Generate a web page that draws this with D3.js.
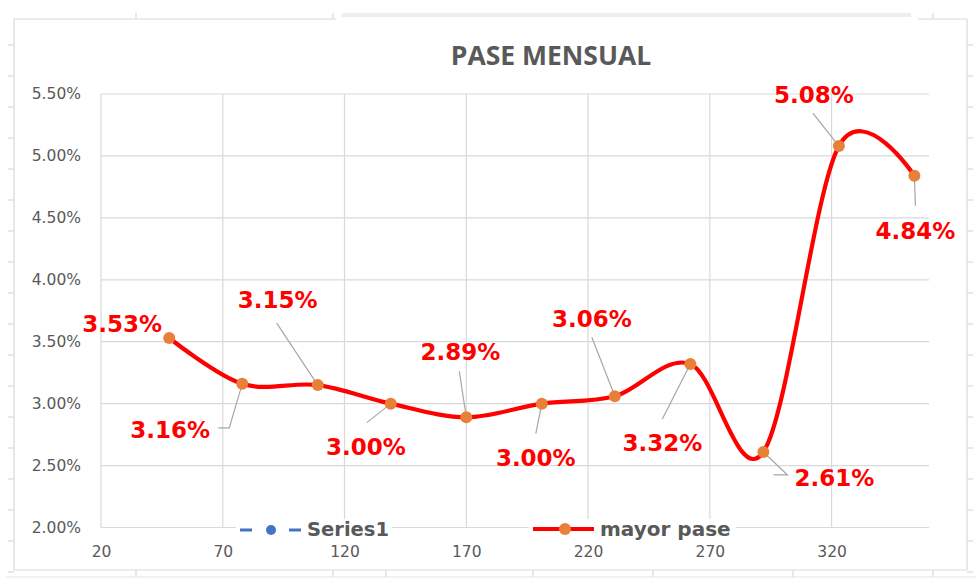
<!DOCTYPE html>
<html><head><meta charset="utf-8">
<script src="https://cdn.jsdelivr.net/npm/d3@7"></script>
<style>html,body{margin:0;padding:0;background:#fff;}svg{display:block;}</style>
</head><body>
<svg id="chart" width="980" height="580"></svg>
<script>
// ---- data ----
const chartTitle = "PASE MENSUAL";
const seriesNames = ["Series1", "mayor pase"];
const xValues = [48, 78, 109, 139, 170, 201, 231, 262, 292, 323, 354];
const mayorPase = [3.53, 3.16, 3.15, 3.00, 2.89, 3.00, 3.06, 3.32, 2.61, 5.08, 4.84];
const series1 = [];
const xTicks = [20, 70, 120, 170, 220, 270, 320];
const yTicks = [2.0, 2.5, 3.0, 3.5, 4.0, 4.5, 5.0, 5.5];

// ---- label layout (pixel offsets from each point) ----
const labelOffsets = [[-47,-6],[-72,54],[-40,-77],[-25,51],[-6,-57],[-6,62],[-23,-69],[-28,87],[71,34],[-25,-43],[1,63]];
const leaderPaths = [null, [[-24,44],[-13,44]], [[-41,-62]], [[-24,19]], [[-7,-46]], [[-6,30]], [[-23,-59]], [[-28,55]], [[10,23],[24,23]], [[-26,-33]], [[1,30]]];

const svg = d3.select("#chart");
const x = d3.scaleLinear().domain([20, 360]).range([101, 929]);
const y = d3.scaleLinear().domain([2.0, 5.5]).range([527.5, 94]);

// ---- outer frame (screenshot border) ----
const frame = svg.append("g").attr("stroke", "#d9d9d9").attr("fill", "none").attr("stroke-width", 1.2);
frame.append("line").attr("x1", 14).attr("x2", 14).attr("y1", 19).attr("y2", 570);
frame.append("line").attr("x1", 967).attr("x2", 967).attr("y1", 19).attr("y2", 570);
frame.append("line").attr("x1", 14).attr("x2", 336).attr("y1", 19).attr("y2", 19);
frame.append("line").attr("x1", 918).attr("x2", 967).attr("y1", 19).attr("y2", 19);
frame.append("line").attr("x1", 14).attr("x2", 967).attr("y1", 570).attr("y2", 570);
frame.append("line").attr("x1", 6).attr("x2", 976).attr("y1", 577).attr("y2", 577).attr("stroke", "#e6e6e6");
svg.append("rect").attr("x", 342).attr("y", 13).attr("width", 569).attr("height", 4).attr("fill", "#eeeeee");
[136, 333, 933].forEach(v => frame.append("line").attr("x1", v).attr("x2", v).attr("y1", 13).attr("y2", 19));
[136, 333, 386, 533, 653, 793, 933].forEach(v => frame.append("line").attr("x1", v).attr("x2", v).attr("y1", 570).attr("y2", 577));
d3.range(45, 575, 31).forEach(v => {
  frame.append("line").attr("x1", 8).attr("x2", 14).attr("y1", v).attr("y2", v);
  frame.append("line").attr("x1", 967).attr("x2", 973).attr("y1", v).attr("y2", v);
});

// ---- title ----
svg.append("text").attr("x", 551).attr("y", 65).attr("text-anchor", "middle")
  .attr("font-family", "'Open Sans', sans-serif").attr("font-weight", "bold").attr("font-size", 26.5)
  .attr("fill", "#595959").text(chartTitle);

// ---- gridlines ----
const grid = svg.append("g");
grid.selectAll(".hg").data(yTicks).join("line")
  .attr("x1", x(20)).attr("x2", x(360)).attr("y1", d => y(d)).attr("y2", d => y(d))
  .attr("stroke", "#d9d9d9").attr("stroke-width", 1.2);
grid.selectAll(".vg").data(xTicks).join("line")
  .attr("x1", d => x(d)).attr("x2", d => x(d)).attr("y1", y(5.5)).attr("y2", y(2.0))
  .attr("stroke", "#d9d9d9").attr("stroke-width", 1.2);

// ---- axes ----
const yAxis = d3.axisLeft(y).tickValues(yTicks).tickSize(0).tickPadding(0).tickFormat(d => d.toFixed(2) + "%");
const gy = svg.append("g").attr("transform", "translate(81,0)").call(yAxis);
gy.select(".domain").remove();
gy.selectAll("text").attr("font-family", "'DejaVu Sans', sans-serif").attr("font-size", 15.5).attr("fill", "#595959");

const xAxis = d3.axisBottom(x).tickValues(xTicks).tickSize(0).tickPadding(0).tickFormat(d3.format("d"));
const gx = svg.append("g").attr("transform", "translate(0,545)").call(xAxis);
gx.select(".domain").remove();
gx.selectAll("text").attr("font-family", "'DejaVu Sans', sans-serif").attr("font-size", 15.5).attr("fill", "#595959").attr("dy", "0.8em");

// ---- line ----
const pts = xValues.map((v, i) => ({x: v, y: mayorPase[i], i}));
const line = d3.line().x(d => x(d.x)).y(d => y(d.y)).curve(d3.curveCardinal.tension(0));

// leader lines
svg.append("g").selectAll("path").data(pts.filter(d => leaderPaths[d.i])).join("path")
  .attr("d", d => {
    const px = x(d.x), py = y(d.y);
    const p = leaderPaths[d.i].map(o => [px + o[0], py + o[1]]);
    return d3.line()([...p, [px, py]]);
  })
  .attr("fill", "none").attr("stroke", "#a6a6a6").attr("stroke-width", 1.2);

svg.append("path").datum(pts).attr("d", line)
  .attr("fill", "none").attr("stroke", "#ff0000").attr("stroke-width", 4.2).attr("stroke-linejoin", "round").attr("stroke-linecap", "round");

svg.append("g").selectAll("circle").data(pts).join("circle")
  .attr("cx", d => x(d.x)).attr("cy", d => y(d.y)).attr("r", 6)
  .attr("fill", "#e8803a");

// data labels
svg.append("g").selectAll("text").data(pts).join("text")
  .attr("x", d => x(d.x) + labelOffsets[d.i][0])
  .attr("y", d => y(d.y) + labelOffsets[d.i][1])
  .attr("text-anchor", "middle")
  .attr("font-family", "'DejaVu Sans', sans-serif").attr("font-weight", "bold").attr("font-size", 23)
  .attr("fill", "#ff0000")
  .text(d => d.y.toFixed(2) + "%");

// ---- legend ----
const leg = svg.append("g");
const l1 = leg.append("g");
l1.append("rect").attr("x", 236).attr("y", 519).attr("width", 156).attr("height", 21).attr("fill", "#fff");
l1.append("line").attr("x1", 240).attr("x2", 302).attr("y1", 530).attr("y2", 530)
  .attr("stroke", "#4472c4").attr("stroke-width", 3).attr("stroke-dasharray", "12,37");
l1.append("circle").attr("cx", 271).attr("cy", 530).attr("r", 5).attr("fill", "#4472c4");
l1.append("text").attr("x", 307).attr("y", 536).attr("font-family", "'DejaVu Sans', sans-serif")
  .attr("font-weight", "bold").attr("font-size", 19.5).attr("fill", "#595959").text(seriesNames[0]);
const l2 = leg.append("g");
l2.append("rect").attr("x", 529).attr("y", 519).attr("width", 207).attr("height", 21).attr("fill", "#fff");
l2.append("line").attr("x1", 533).attr("x2", 594).attr("y1", 529).attr("y2", 529)
  .attr("stroke", "#ff0000").attr("stroke-width", 4.2);
l2.append("circle").attr("cx", 565).attr("cy", 529).attr("r", 6).attr("fill", "#e8803a");
l2.append("text").attr("x", 600).attr("y", 536).attr("font-family", "'DejaVu Sans', sans-serif")
  .attr("font-weight", "bold").attr("font-size", 20).attr("fill", "#595959").text(seriesNames[1]);
</script>
</body></html>
